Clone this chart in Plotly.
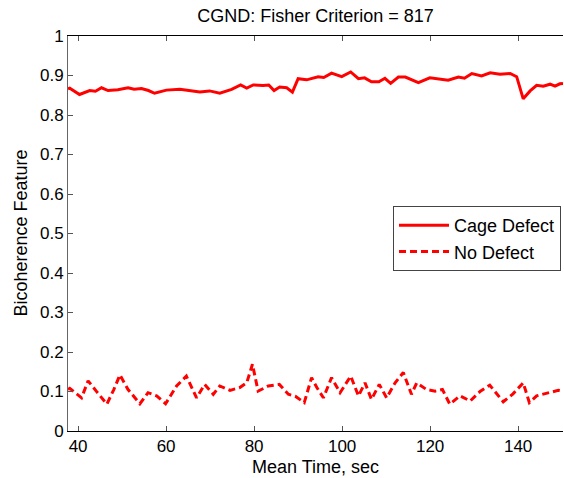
import plotly.graph_objects as go

# Cage Defect (solid)
cage_x = [37.7, 38.10, 40.32, 42.64, 43.94, 45.32, 46.81, 49.03, 51.35, 52.74, 54.41, 55.98,
          57.37, 60.06, 63.12, 65.34, 67.66, 69.88, 72.20, 74.89, 76.93, 78.32, 79.80, 82.03,
          83.32, 84.53, 85.82, 87.40, 88.70, 90.00, 91.20, 91.94, 94.54, 95.83, 97.60, 99.91,
          101.95, 103.71, 105.10, 106.67, 108.35, 109.73, 111.03, 112.79, 114.37, 117.33,
          119.93, 122.62, 124.10, 126.42, 127.81, 129.48, 131.70, 133.65, 135.87, 138.19,
          139.67, 141.16, 142.73, 144.21, 145.70, 147.27, 148.38, 149.50, 150.2]
cage_y = [0.866, 0.868, 0.852, 0.862, 0.860, 0.869, 0.862, 0.864, 0.869, 0.865, 0.867, 0.862,
          0.855, 0.863, 0.865, 0.861, 0.858, 0.861, 0.855, 0.865, 0.876, 0.868, 0.876, 0.875,
          0.876, 0.862, 0.871, 0.869, 0.858, 0.892, 0.890, 0.889, 0.897, 0.895, 0.906, 0.897,
          0.909, 0.892, 0.894, 0.884, 0.884, 0.893, 0.880, 0.896, 0.896, 0.882, 0.894, 0.890,
          0.888, 0.896, 0.893, 0.905, 0.899, 0.907, 0.903, 0.905, 0.897, 0.841, 0.861, 0.875,
          0.873, 0.878, 0.873, 0.879, 0.880]

# No Defect (dashed)
nodef_x = [37.7, 38.10, 40.78, 42.27, 44.12, 46.53, 48.11, 49.50, 51.35, 54.04, 55.89, 57.84,
           59.88, 62.38, 64.60, 66.92, 68.77, 70.72, 72.20, 74.52, 76.74, 78.32, 79.62, 80.91,
           83.23, 85.73, 87.77, 89.35, 91.39, 93.06, 94.26, 95.74, 97.60, 99.54, 101.95,
           103.71, 105.20, 106.67, 108.44, 110.11, 112.05, 113.91, 115.76, 116.96, 119.19,
           121.14, 122.80, 124.47, 126.79, 129.11, 131.42, 133.56, 136.62, 138.84, 141.16,
           142.55, 144.21, 147.27, 149.13, 150.2]
nodef_y = [0.105, 0.108, 0.084, 0.127, 0.101, 0.068, 0.105, 0.142, 0.105, 0.069, 0.097, 0.089,
           0.069, 0.114, 0.139, 0.084, 0.118, 0.093, 0.114, 0.103, 0.110, 0.122, 0.169, 0.101,
           0.114, 0.118, 0.093, 0.088, 0.072, 0.135, 0.110, 0.084, 0.135, 0.097, 0.139, 0.089,
           0.122, 0.080, 0.118, 0.084, 0.122, 0.148, 0.093, 0.122, 0.105, 0.101, 0.105, 0.068,
           0.089, 0.076, 0.101, 0.116, 0.074, 0.094, 0.122, 0.072, 0.089, 0.097, 0.103, 0.101]

x_ticks = [40, 60, 80, 100, 120, 140]
y_ticks = [0, 0.1, 0.2, 0.3, 0.4, 0.5, 0.6, 0.7, 0.8, 0.9, 1]
y_tick_text = ["0", "0.1", "0.2", "0.3", "0.4", "0.5", "0.6", "0.7", "0.8", "0.9", "1"]

FONT = "Liberation Sans, Arial, sans-serif"

fig = go.Figure()
fig.add_trace(go.Scatter(x=cage_x, y=cage_y, mode="lines", name="Cage Defect",
                         line=dict(color="#ff0000", width=3)))
fig.add_trace(go.Scatter(x=nodef_x, y=nodef_y, mode="lines", name="No Defect",
                         line=dict(color="#ff0000", width=3, dash="7px,4px")))

W, H = 564, 478
L, R, T, B = 68, 1, 36, 47
pw = W - L - R
ph = H - T - B

fig.update_layout(
    width=W, height=H,
    margin=dict(l=L, r=R, t=T, b=B),
    paper_bgcolor="white", plot_bgcolor="white",
    font=dict(family=FONT, color="black", size=17),
    title=dict(text="CGND: Fisher Criterion = 817", x=(L + pw / 2) / W, xanchor="center",
               y=1 - 16 / H, yanchor="middle", font=dict(size=18, family=FONT)),
    showlegend=True,
    legend=dict(x=(561 - L) / pw, xanchor="right", y=(H - B - 206) / ph, yanchor="top",
                bgcolor="white", bordercolor="#444", borderwidth=1, itemwidth=50,
                font=dict(size=18, family=FONT), tracegroupgap=0),
    xaxis=dict(range=[37.7, 150.2], tickvals=x_ticks, ticks="inside",
               ticklen=5, tickcolor="#555", showline=True, linecolor="black",
               linewidth=1, mirror="ticks", showgrid=False, zeroline=False,
               tickfont=dict(size=17)),
    yaxis=dict(range=[0, 1], tickvals=y_ticks, ticktext=y_tick_text, ticks="inside",
               ticklen=5, tickcolor="#555", showline=True, linecolor="#666",
               linewidth=1, showgrid=False, zeroline=False, tickfont=dict(size=17)),
    annotations=[
        dict(text="Mean Time, sec", xref="paper", yref="paper", x=0.5,
             y=-(467 - (H - B)) / ph, xanchor="center", yanchor="middle", showarrow=False,
             font=dict(size=18, family=FONT)),
        dict(text="Bicoherence Feature", xref="paper", yref="paper", x=(20 - L) / pw,
             y=0.5, xanchor="center", yanchor="middle", showarrow=False, textangle=-90,
             font=dict(size=18, family=FONT)),
    ],
)

fig.write_html("out.html")
